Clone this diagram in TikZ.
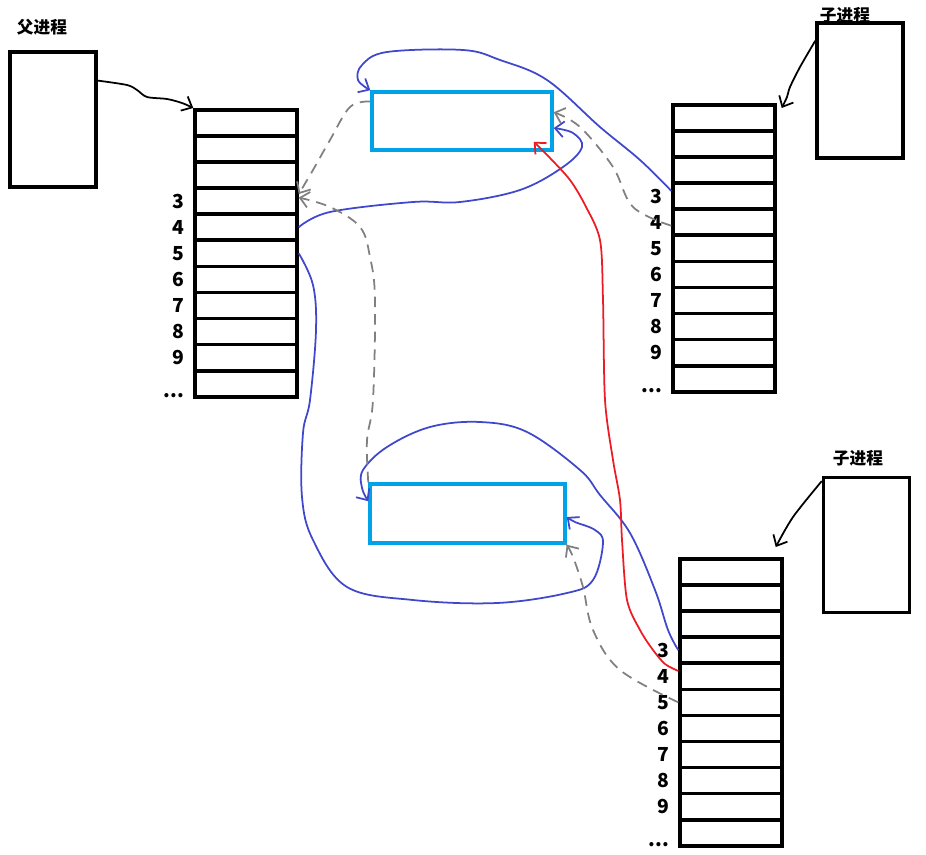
\documentclass[tikz,border=0pt]{standalone}
\usepackage{fontspec}
\setmainfont{Noto Sans CJK SC}
\usetikzlibrary{arrows.meta,positioning}
\definecolor{fileblue}{HTML}{00A2E8}
\definecolor{penblue}{HTML}{3F48CC}
\definecolor{penred}{HTML}{ED1C24}

\begin{document}
\begin{tikzpicture}[x=0.02cm, y=-0.02cm,
  proc/.style={draw, line width=2pt, minimum width=1.72cm, minimum height=2.7cm, inner sep=0},
  slot/.style={draw, line width=2pt, minimum width=2.04cm, minimum height=0.522cm, inner sep=0, anchor=north},
  file/.style={draw=fileblue, line width=2pt, inner sep=0},
  num/.style={font=\bfseries\fontsize{11}{13}\selectfont, inner sep=0},
  title/.style={font=\bfseries\fontsize{9.5}{11}\selectfont, inner sep=0},
  hand/.style={line width=1pt, -{Straight Barb[length=5pt,width=9pt]}},
  ptr/.style={hand, draw=black},
  ref/.style={hand, draw=penblue},
  dup/.style={hand, draw=penred},
  old/.style={hand, draw=gray, dash pattern=on 6pt off 4pt}]
  \useasboundingbox (0,0) rectangle (926,855);
  % 父进程
  \node[title] (ptitle) at (42,27) {父进程};
  \node[proc] (pp) at (53,119.5) {};
  \foreach \i in {0,...,10}
    \node[slot] (p\i) at (246,{108+\i*26.1}) {};
  \foreach \i in {3,...,9}
    \node[num, left=5pt of p\i] (pn\i) {\i};
  \node[num, anchor=south east] (pdots) at ([xshift=-5pt]p10.south west) {...};
  % 子进程 (上)
  \node[title] (atitle) at (845,15) {子进程};
  \node[proc] (ap) at (860,90.5) {};
  \foreach \i in {0,...,10}
    \node[slot] (a\i) at (724,{103+\i*26.1}) {};
  \foreach \i in {3,...,9}
    \node[num, left=5pt of a\i] (an\i) {\i};
  \node[num, anchor=south east] (adots) at ([xshift=-5pt]a10.south west) {...};
  % 子进程 (下)
  \node[title] (btitle) at (858,458) {子进程};
  \node[proc] (bp) at (866.5,545) {};
  \foreach \i in {0,...,10}
    \node[slot] (b\i) at (731,{557+\i*26.1}) {};
  \foreach \i in {3,...,9}
    \node[num, left=5pt of b\i] (bn\i) {\i};
  \node[num, anchor=south east] (bdots) at ([xshift=-5pt]b10.south west) {...};
  % 文件
  \node[file, minimum width=3.6cm, minimum height=1.16cm] (f1) at (462,121) {};
  \node[file, minimum width=3.9cm, minimum height=1.18cm] (f2) at (467.5,513.5) {};
  % 进程 -> 表
  \draw[ptr] plot[smooth, tension=0.5] coordinates {(pp.41) (127,85) (137,90) (147,97) (167,99) (182,103) (p0.north west)};
  \draw[ptr] plot[smooth, tension=0.5] coordinates {(ap.132) (800,67) (790,87) (787,97) ([shift={(5,5)}]a0.north east)};
  \draw[ptr] plot[smooth, tension=0.5] coordinates {(bp.125) (793,517) ([shift={(-8,-10)}]b0.north east)};
  % 蓝线
  \draw[ref] plot[smooth, tension=0.6] coordinates {(p4.east) (330,212) (413,202) (460,202) (520,190) (563,167) (582,147) (573,133) ([yshift=-4pt]f1.east)};
  \draw[ref] plot[smooth, tension=0.6] coordinates {([yshift=3pt]a3.west) (640,160) (600,127) (547,80) (500,60) (463,50) (387,52) (362,65) (358,80) (f1.north west)};
  \draw[ref] plot[smooth, tension=0.6] coordinates {(p5.east) (313,285) (316,330) (310,400) (303,433) (302,497) (313,540) (347,587) (413,600) (497,603) (567,593) (593,580) (603,543) (595,530) (575,522) ([yshift=-2pt]f2.east)};
  \draw[ref] plot[smooth, tension=0.6] coordinates {(b3.west) (668,630) (655,590) (630,533) (600,495) (580,470) (527,432) (480,422) (430,427) (387,447) (363,470) (362,488) ([yshift=7pt]f2.west)};
  % 红线
  \draw[dup] plot[smooth, tension=0.5] coordinates {([yshift=3pt]b4.west) (665,664) (653,650) (640,630) (627,600) (622,540) (620,500) (613,460) (605,400) (603,300) (600,240) (585,205) (570,180) (550,158) ([shift={(-20,-10)}]f1.south east)};
  % 灰色虚线
  \draw[old] plot[smooth, tension=0.6] coordinates {(f1.168) (350,107) (330,140) (313,170) ([yshift=4pt]p3.east)};
  \draw[old] plot[smooth, tension=0.6] coordinates {(f2.north west) (367,440) (373,400) (375,300) (370,257) (360,227) (330,207) ([yshift=2pt]p3.east)};
  \draw[old] plot[smooth, tension=0.6] coordinates {([yshift=-2pt]a4.west) (633,207) (613,167) (580,127) ([yshift=5pt]f1.east)};
  \draw[old] plot[smooth, tension=0.6] coordinates {(b5.west) (620,670) (593,630) (583,587) (573,557) (f2.south east)};
\end{tikzpicture}
\end{document}
